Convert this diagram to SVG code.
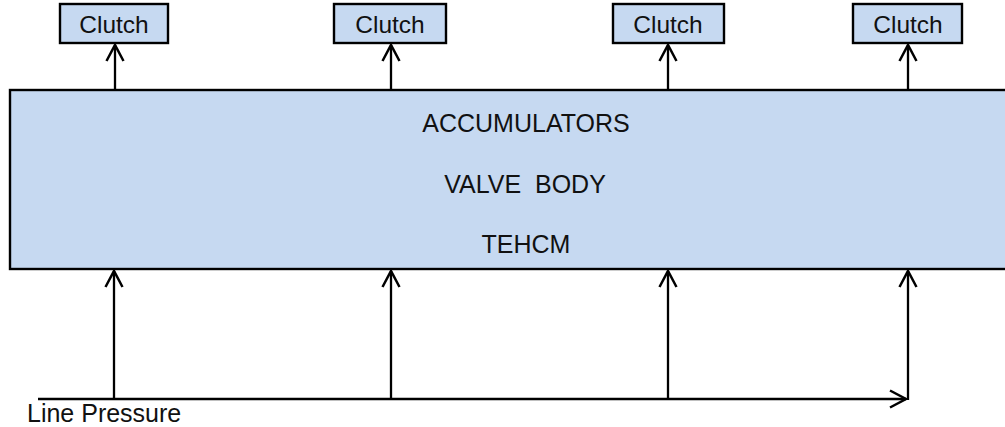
<svg xmlns="http://www.w3.org/2000/svg" width="1005" height="427" viewBox="0 0 1005 427">
  <style>
    .box { fill: #c6d9f1; stroke: #000; stroke-width: 2.4; }
    .lbl { font-family: "Liberation Sans", Arial, sans-serif; font-size: 25px; fill: #111; }
    .small { font-size: 24.5px; }
    .mid { text-anchor: middle; }
    .wire { fill: none; stroke: #000; stroke-width: 2.3; }
    .arr { marker-end: url(#open); }
  </style>
  <defs>
    <marker id="open" markerUnits="userSpaceOnUse" viewBox="-18 -10 20 20" markerWidth="20" markerHeight="20" refX="0" refY="0" orient="auto" overflow="visible">
      <path d="M-16,-8.5 L0,0 L-16,8.5" fill="none" stroke="#000" stroke-width="2.5"/>
    </marker>
  </defs>
  <rect width="1005" height="427" fill="#fff"/>

  <!-- main block -->
  <g id="control-block">
    <rect class="box" x="10" y="90" width="1010" height="179"/>
    <text class="lbl mid" x="526" y="132">ACCUMULATORS</text>
    <text class="lbl mid" x="525" y="193" xml:space="preserve">VALVE  BODY</text>
    <text class="lbl mid" x="526" y="253">TEHCM</text>
  </g>

  <!-- clutches -->
  <g id="clutch-1">
    <rect class="box" x="60" y="4" width="108" height="39"/>
    <text class="lbl small mid" x="114" y="33">Clutch</text>
  </g>
  <g id="clutch-2">
    <rect class="box" x="334" y="4" width="112" height="39"/>
    <text class="lbl small mid" x="390" y="33">Clutch</text>
  </g>
  <g id="clutch-3">
    <rect class="box" x="613" y="4" width="111" height="39"/>
    <text class="lbl small mid" x="668" y="33">Clutch</text>
  </g>
  <g id="clutch-4">
    <rect class="box" x="853" y="4" width="109" height="39"/>
    <text class="lbl small mid" x="908" y="33">Clutch</text>
  </g>

  <!-- line pressure label -->
  <g id="line-pressure">
    <text class="lbl" x="27" y="422">Line Pressure</text>
  </g>

  <!-- connectors -->
  <g id="connectors">
    <line class="wire arr" x1="115" y1="89" x2="115" y2="45"/>
    <line class="wire arr" x1="391" y1="89" x2="391" y2="45"/>
    <line class="wire arr" x1="668" y1="89" x2="668" y2="45"/>
    <line class="wire arr" x1="908" y1="89" x2="908" y2="45"/>

    <line class="wire arr" x1="38" y1="399" x2="906" y2="399"/>
    <line class="wire arr" x1="114" y1="399" x2="114" y2="271"/>
    <line class="wire arr" x1="391" y1="399" x2="391" y2="271"/>
    <line class="wire arr" x1="668" y1="399" x2="668" y2="271"/>
    <line class="wire arr" x1="908" y1="400" x2="908" y2="271"/>
  </g>
</svg>
